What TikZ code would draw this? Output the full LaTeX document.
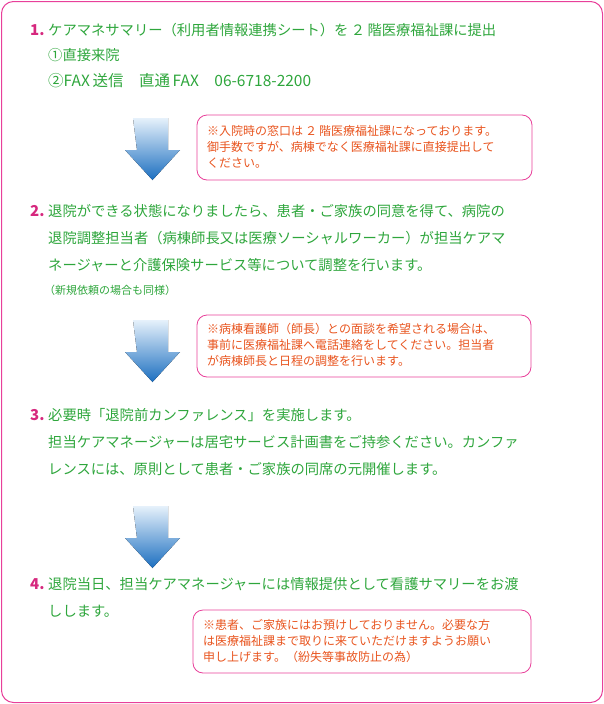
\documentclass[tikz,border=0pt]{standalone}
\usepackage{fontspec}
\setmainfont{Noto Sans CJK JP}
\usetikzlibrary{positioning, calc}
\definecolor{stepgreen}{HTML}{2EA63C}
\definecolor{stepnum}{HTML}{D6287E}
\definecolor{framepink}{HTML}{E8409A}
\definecolor{notered}{HTML}{E8541E}
\definecolor{arrowtop}{HTML}{E6F1FB}
\definecolor{arrowbot}{HTML}{1C6FC0}
\tikzset{
        stepline/.style={anchor=west, inner sep=0pt, text=stepgreen, font=\fontsize{14.3}{16}\selectfont},
        stepno/.style={anchor=west, inner sep=0pt, text=stepnum, font=\fontsize{15}{16}\selectfont\bfseries},
        smallline/.style={anchor=west, inner sep=0pt, text=stepgreen, font=\fontsize{11}{13}\selectfont},
        notebox/.style={draw=framepink, line width=0.8pt, rounded corners=10pt},
        noteline/.style={anchor=west, inner sep=0pt, text=notered, font=\fontsize{12}{14}\selectfont},
        downarrow/.style={top color=arrowtop, bottom color=arrowbot, draw=none},
    }
\newcommand{\downarr}[1]{\fill[downarrow] ($(#1)+(8,0)$) -- ++(35,0) -- ++(0,32) -- ++(12,0) -- ++(-27.5,30) -- ++(-27.5,-30) -- ++(12,0) -- cycle;}
\begin{document}
\begin{tikzpicture}[x=1pt, y=-1pt]
        \useasboundingbox (0,0) rectangle (604,704);
        \draw[framepink, line width=1pt, rounded corners=12pt] (1.5,1.5) rectangle (602.5,702.5);

        % step 1
        \node[stepno] (n1) at (30,30) {1.};
        \node[stepline] (s1a) at (48,30) {ケアマネサマリー（利用者情報連携シート）を\,２\,階医療福祉課に提出};
        \node[stepline] (s1b) at (48,55) {①直接来院};
        \node[stepline, font=\fontsize{15.5}{16}\selectfont] (s1c) at (48,81) {②FAX\,送信　直通\,FAX　06-6718-2200};

        \coordinate (a1) at (125,118);
        \downarr{a1}
        \draw[notebox] (197,115) rectangle (532,180);
        \node[noteline] (t1a) at (207,131) {※入院時の窓口は\,２\,階医療福祉課になっております。};
        \node[noteline] (t1b) at (207,147) {御手数ですが、病棟でなく医療福祉課に直接提出して};
        \node[noteline] (t1c) at (207,163) {ください。};

        % step 2
        \node[stepno] (n2) at (30,211) {2.};
        \node[stepline] (s2a) at (48,211) {退院ができる状態になりましたら、患者・ご家族の同意を得て、病院の};
        \node[stepline] (s2b) at (48,238) {退院調整担当者（病棟師長又は医療ソーシャルワーカー）が担当ケアマ};
        \node[stepline] (s2c) at (48,265) {ネージャーと介護保険サービス等について調整を行います。};
        \node[smallline] (s2d) at (44,290) {（新規依頼の場合も同様）};

        \coordinate (a2) at (125,320);
        \downarr{a2}
        \draw[notebox] (197,315) rectangle (531,377);
        \node[noteline] (t2a) at (207,329) {※病棟看護師（師長）との面談を希望される場合は、};
        \node[noteline] (t2b) at (207,345) {事前に医療福祉課へ電話連絡をしてください。担当者};
        \node[noteline] (t2c) at (207,361) {が病棟師長と日程の調整を行います。};

        % step 3
        \node[stepno] (n3) at (30,415) {3.};
        \node[stepline] (s3a) at (48,415) {必要時「退院前カンファレンス」を実施します。};
        \node[stepline] (s3b) at (48,442) {担当ケアマネージャーは居宅サービス計画書をご持参ください。カンファ};
        \node[stepline] (s3c) at (48,469) {レンスには、原則として患者・ご家族の同席の元開催します。};

        \coordinate (a3) at (125,506);
        \downarr{a3}

        % step 4
        \node[stepno] (n4) at (30,584) {4.};
        \node[stepline] (s4a) at (48,584) {退院当日、担当ケアマネージャーには情報提供として看護サマリーをお渡};
        \node[stepline] (s4b) at (48,611) {しします。};
        \draw[notebox] (193,610) rectangle (531,673);
        \node[noteline] (t4a) at (203,625) {※患者、ご家族にはお預けしておりません。必要な方};
        \node[noteline] (t4b) at (203,641) {は医療福祉課まで取りに来ていただけますようお願い};
        \node[noteline] (t4c) at (203,657) {申し上げます。（紛失等事故防止の為）};
    \end{tikzpicture}
\end{document}
